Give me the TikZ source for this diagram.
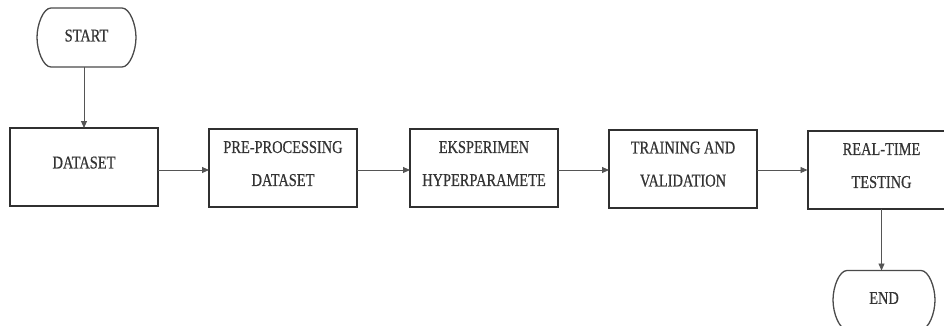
\documentclass[tikz,border=0pt]{standalone}
\usepackage{fontspec}
\setmainfont{Liberation Serif}[FakeStretch=0.8,FakeBold=0.6]
\usetikzlibrary{arrows.meta}
\definecolor{boxline}{HTML}{303030}
\definecolor{termline}{HTML}{4A4A4A}
\definecolor{arrline}{HTML}{555555}
\definecolor{inktext}{HTML}{333333}
\tikzset{
  stepbox/.style={draw=boxline, line width=2pt, minimum width=148pt, minimum height=78pt,
    inner sep=0pt, outer sep=0pt, align=center, text=inktext, text depth=9pt,
    font=\fontsize{18}{33}\selectfont},
  termnode/.style={draw=none, minimum width=#1, minimum height=59pt, inner sep=0pt, outer sep=0pt,
    text=inktext, text depth=4pt, font=\fontsize{18}{22}\selectfont},
  termoutline/.style={draw=termline, line width=1.3pt},
  flow/.style={draw=arrline, line width=0.9pt, -{Triangle[length=7pt,width=6pt]}}
}
% terminal symbol: flat top and bottom, elliptical left and right sides
\newcommand\termshape[1]{%
  \path[termoutline] ([xshift=14pt]#1.north west) -- ([xshift=-14pt]#1.north east)
    .. controls ([xshift=-6.3pt]#1.north east) and ([yshift=13.2pt]#1.east) .. (#1.east)
    .. controls ([yshift=-13.2pt]#1.east) and ([xshift=-6.3pt]#1.south east) .. ([xshift=-14pt]#1.south east)
    -- ([xshift=14pt]#1.south west)
    .. controls ([xshift=6.3pt]#1.south west) and ([yshift=-13.2pt]#1.west) .. (#1.west)
    .. controls ([yshift=13.2pt]#1.west) and ([xshift=6.3pt]#1.north west) .. cycle;}
\begin{document}
\begin{tikzpicture}[x=1pt,y=-1pt]
  \useasboundingbox (0,0) rectangle (944,325);
  \clip (0,0) rectangle (944,325);

  \node[termnode=99pt] (start) at (86.5,37.5) {START};
  \termshape{start}

  \node[stepbox] (dataset) at (84,167) {DATASET};
  \node[stepbox] (prep) at (283,168) {PRE-PROCESSING\\DATASET};
  \node[stepbox] (hyper) at (484,168) {EKSPERIMEN\\HYPERPARAMETE};
  \node[stepbox] (train) at (683,168.5) {TRAINING AND\\VALIDATION};
  \node[stepbox] (test) at (881.5,170) {REAL-TIME\\TESTING};

  \node[termnode=102pt] (finish) at (884,300) {END};
  \termshape{finish}

  \draw[flow] (start.south -| dataset.north) -- (dataset.north);
  \draw[flow] (dataset.east |- 0,170) -- (prep.west |- 0,170);
  \draw[flow] (prep.east |- 0,170) -- (hyper.west |- 0,170);
  \draw[flow] (hyper.east |- 0,170) -- (train.west |- 0,170);
  \draw[flow] (train.east |- 0,170) -- (test.west |- 0,170);
  \draw[flow] (test.south) -- (test.south |- finish.north);
\end{tikzpicture}
\end{document}
